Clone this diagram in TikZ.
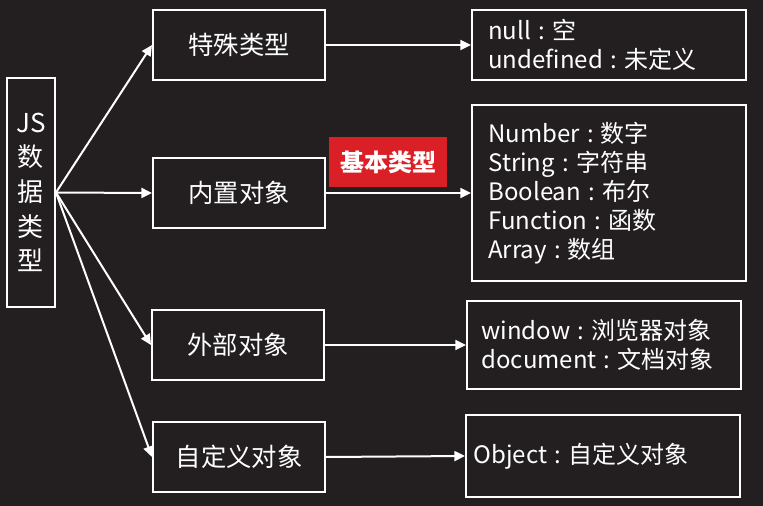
\documentclass[tikz,border=0pt]{standalone}
\usepackage{fontspec}
\setmainfont{Noto Sans CJK SC}
\usetikzlibrary{arrows.meta}
\definecolor{bgdark}{HTML}{231F20}
\definecolor{tagred}{HTML}{DA1F26}
\newcommand{\colsep}{\hspace{0.3em}:\hspace{0.3em}}
\tikzset{
  box/.style={draw=white, line width=1.5pt, text=white, inner sep=0pt},
  midbox/.style={box, minimum width=129pt, minimum height=52.5pt, font=\fontsize{19}{23}\selectfont},
  listbox/.style={box, align=left, font=\fontsize{18}{21.75}\selectfont},
  link/.style={draw=white, line width=1.5pt, -{Triangle[length=8pt,width=7.5pt]}}
}
\begin{document}
\begin{tikzpicture}[x=0.75pt, y=-0.75pt]
% Draw background
\fill[bgdark] (0,0) rectangle (763,506);
\useasboundingbox (0,0) rectangle (763,506);
% Draw root box
\node[box, minimum width=36pt, minimum height=171.75pt, align=center, font=\fontsize{19.5}{26}\selectfont] (root) at (31,192.5) {JS\\数\\据\\类\\型};
% Draw middle boxes
\node[midbox] (special) at (239,45) {特殊类型};
\node[midbox] (builtin) at (239,193) {内置对象};
\node[midbox] (external) at (238,345) {外部对象};
\node[midbox] (custom) at (239,457) {自定义对象};
% Draw right boxes
\node[listbox, minimum height=52.5pt, text width=181pt, inner xsep=12.25pt] (specialv) at (609,45) {null\colsep 空\\undefined\colsep 未定义};
\node[listbox, minimum height=132pt, text width=181pt, inner xsep=12.25pt] (builtinv) at (609,193) {Number\colsep 数字\\String\colsep 字符串\\Boolean\colsep 布尔\\Function\colsep 函数\\Array\colsep 数组};
\node[listbox, minimum height=66pt, text width=184pt, inner xsep=10.75pt] (externalv) at (604,345) {window\colsep 浏览器对象\\document\colsep 文档对象};
\node[listbox, minimum height=61.5pt, text width=194pt, inner xsep=5.75pt] (customv) at (603,456) {Object\colsep 自定义对象};
% Draw tag
\node[fill=tagred, text=white, minimum width=88.5pt, minimum height=37.5pt, inner sep=0pt, font=\bfseries\fontsize{18}{21}\selectfont] (tag) at (388,162) {基本类型};
% Draw arrows
\foreach \m in {special,builtin,external,custom}
    \draw[link] (root.east) -- (\m.west);
\foreach \m in {special,builtin,external,custom}
    \draw[link] (\m.east) -- (\m v.west);
\end{tikzpicture}
\end{document}
